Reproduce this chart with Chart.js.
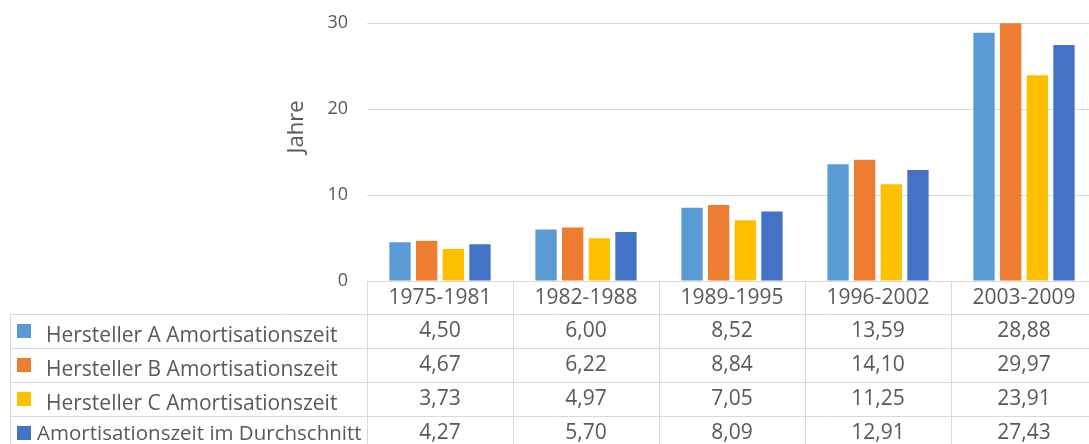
<!DOCTYPE html>
<html>
<head>
<meta charset="utf-8">
<script src="https://cdn.jsdelivr.net/npm/chart.js@4"></script>
<style>
  html, body { margin: 0; padding: 0; background: #fff; overflow: hidden; }
  #wrap { position: relative; width: 1100px; height: 444px; }
</style>
</head>
<body>
<div id="wrap"><canvas id="chart"></canvas></div>
<script>
const categories = ['1975-1981', '1982-1988', '1989-1995', '1996-2002', '2003-2009'];
const seriesNames = [
  'Hersteller A Amortisationszeit',
  'Hersteller B Amortisationszeit',
  'Hersteller C Amortisationszeit',
  'Amortisationszeit im Durchschnitt'
];
const herstellerA = [4.50, 6.00, 8.52, 13.59, 28.88];
const herstellerB = [4.67, 6.22, 8.84, 14.10, 29.97];
const herstellerC = [3.73, 4.97, 7.05, 11.25, 23.91];
const durchschnitt = [4.27, 5.70, 8.09, 12.91, 27.43];
const yMax = 30;
const yStep = 10;
const yTitle = 'Jahre';

const COLORS = ['#5B9BD5', '#ED7D31', '#FFC000', '#4472C4'];
const TEXT = '#595959';
const LINE = '#d9d9d9';
const FONT = '"Open Sans", "Noto Sans", sans-serif';

const fmt = (v) => v.toFixed(2).replace('.', ',');

// data table under the plot: header row with the periods, one row per series
const dataTable = {
  id: 'dataTable',
  afterDraw(chart) {
    const { ctx, chartArea: area, scales } = chart;
    const x = scales.x;
    const n = categories.length;
    const colW = (area.right - area.left) / n;
    const headH = 33;
    const rowH = 34;
    const tableLeft = 10;
    const bottom = chart.height;
    const top = area.bottom;

    ctx.save();
    ctx.strokeStyle = LINE;
    ctx.lineWidth = 1;
    ctx.beginPath();
    ctx.moveTo(area.left, top + 0.5);
    ctx.lineTo(area.right, top + 0.5);
    for (let r = 0; r < 4; r++) {
      const y = Math.round(top + headH + r * rowH) + 0.5;
      ctx.moveTo(tableLeft, y);
      ctx.lineTo(area.right, y);
    }
    for (let i = 0; i <= n; i++) {
      const vx = Math.round(area.left + i * colW) + 0.5;
      ctx.moveTo(vx, top);
      ctx.lineTo(vx, bottom);
    }
    ctx.moveTo(tableLeft + 0.5, top + headH);
    ctx.lineTo(tableLeft + 0.5, bottom);
    ctx.stroke();

    ctx.fillStyle = TEXT;
    ctx.textAlign = 'center';
    ctx.textBaseline = 'middle';
    ctx.font = '21px ' + FONT;
    categories.forEach((c, i) => {
      ctx.fillText(c, x.getPixelForValue(i), top + headH / 2 + 1);
    });

    chart.data.datasets.forEach((ds, r) => {
      const cy = top + headH + r * rowH + rowH / 2;
      ctx.font = '21px ' + FONT;
      ctx.fillStyle = TEXT;
      ctx.textAlign = 'center';
      ds.data.forEach((v, i) => {
        ctx.fillText(fmt(v), x.getPixelForValue(i), cy);
      });
      ctx.fillStyle = ds.backgroundColor;
      ctx.fillRect(17, Math.round(cy - 7), 14, 14);
      ctx.fillStyle = TEXT;
      ctx.textAlign = 'left';
      if (r === 3) {
        ctx.font = '20.5px ' + FONT;
        ctx.fillText(ds.label, 37, cy + 1);
      } else {
        ctx.fillText(ds.label, 46, cy + 5);
      }
    });

    // rotated axis title, set a little above the middle of the axis
    ctx.save();
    ctx.translate(297, 127);
    ctx.rotate(-Math.PI / 2);
    ctx.font = '22px ' + FONT;
    ctx.fillStyle = TEXT;
    ctx.textAlign = 'center';
    ctx.fillText(yTitle, 0, 0);
    ctx.restore();
    ctx.restore();
  }
};

const seriesData = [herstellerA, herstellerB, herstellerC, durchschnitt];

new Chart(document.getElementById('chart'), {
  type: 'bar',
  data: {
    labels: categories,
    datasets: seriesData.map((d, i) => ({
      label: seriesNames[i],
      data: d,
      backgroundColor: COLORS[i],
      categoryPercentage: 0.73,
      barPercentage: 0.8
    }))
  },
  options: {
    responsive: true,
    maintainAspectRatio: false,
    animation: false,
    layout: { padding: { left: 280, right: 3, top: 23, bottom: 163 } },
    plugins: {
      legend: { display: false },
      tooltip: { enabled: false }
    },
    scales: {
      x: { display: false },
      y: {
        min: 0,
        max: yMax,
        afterFit: (axis) => {
          axis.width = 87;
          axis.paddingTop = 0;
          axis.paddingBottom = 0;
        },
        ticks: {
          stepSize: yStep,
          padding: 19,
          color: TEXT,
          font: { family: FONT, size: 18 }
        },
        grid: { color: LINE, drawTicks: false },
        border: { display: false }
      }
    }
  },
  plugins: [dataTable]
});
</script>
</body>
</html>
